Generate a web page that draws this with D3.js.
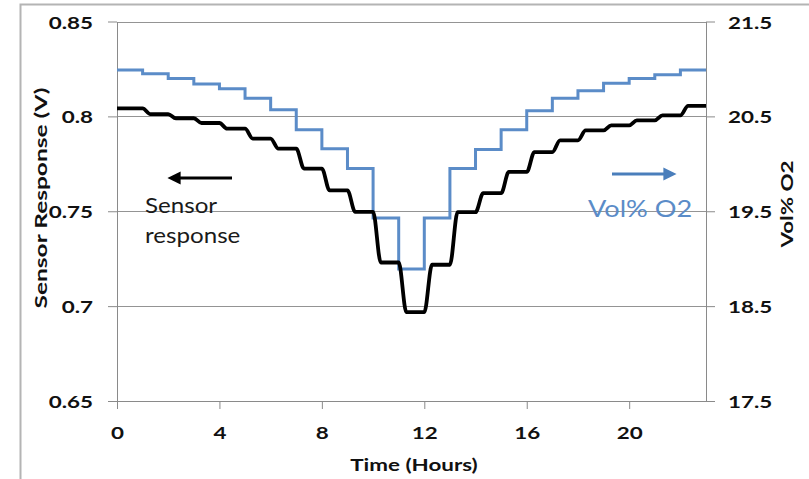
<!DOCTYPE html>
<html>
<head>
<meta charset="utf-8">
<script src="https://cdn.jsdelivr.net/npm/d3@7"></script>
<style>
  html, body { margin: 0; padding: 0; background: #fff; }
  svg { display: block; }
</style>
</head>
<body>
<svg id="chart" width="809" height="479"></svg>
<script>
// Hour index of each step (start of the hour)
const hours = d3.range(0, 23);
// Sensor output (V) held during each hour
const sensorV = [0.8042, 0.8012, 0.7990, 0.7965, 0.7935, 0.7883, 0.7830, 0.7725,
                 0.7610, 0.7497, 0.7230, 0.6968, 0.7218, 0.7495, 0.7595, 0.7707,
                 0.7812, 0.7874, 0.7926, 0.7953, 0.7979, 0.8005, 0.8055];
// Oxygen concentration (vol%) during each hour
const o2Vol = [20.99, 20.95, 20.90, 20.84, 20.79, 20.69, 20.57, 20.36, 20.16, 19.95,
               19.43, 18.89, 19.43, 19.95, 20.15, 20.36, 20.56, 20.69, 20.77, 20.85,
               20.90, 20.94, 20.99];
// Axis ticks
const xTicks = [0, 4, 8, 12, 16, 20];
const leftTicks = [0.65, 0.7, 0.75, 0.8, 0.85];
const leftTickLabels = ["0.65", "0.7", "0.75", "0.8", "0.85"];
const rightTicks = [17.5, 18.5, 19.5, 20.5, 21.5];
const rightTickLabels = ["17.5", "18.5", "19.5", "20.5", "21.5"];

const FONT = "Lato, 'Open Sans', sans-serif";
const SIZE = 17.5;        // axis label font size
const SX = 1.28;          // horizontal glyph stretch of the labels
const BLUE = "#5b8cc8";

const svg = d3.select("#chart");

// frame
svg.append("path")
  .attr("d", "M20.5,479 V4.5 H809")
  .attr("fill", "none").attr("stroke", "#b4b4b4").attr("stroke-width", 2);

const x = d3.scaleLinear().domain([0, 23]).range([117, 706]);
const yL = d3.scaleLinear().domain([0.65, 0.85]).range([401, 21.5]);
const yR = d3.scaleLinear().domain([17.5, 21.5]).range([401, 21.5]);

// horizontal gridlines
svg.append("g").selectAll("line")
  .data(leftTicks.slice(1))
  .join("line")
  .attr("x1", x(0)).attr("x2", x(23))
  .attr("y1", d => Math.round(yL(d)) + 0.5).attr("y2", d => Math.round(yL(d)) + 0.5)
  .attr("stroke", "#949494").attr("stroke-width", 1);

function styleAxis(g) {
  g.selectAll(".domain").attr("stroke", "#8a8a8a");
  g.selectAll(".tick line").attr("stroke", "#8a8a8a");
  g.selectAll(".tick text")
    .attr("x", null).attr("y", null).attr("dy", null)
    .attr("fill", "#111")
    .style("font-family", FONT).style("font-weight", 700).style("font-size", SIZE + "px");
}

// left axis
const gL = svg.append("g").attr("transform", `translate(${x(0)},0)`)
  .call(d3.axisLeft(yL).tickValues(leftTicks)
    .tickFormat((d, i) => leftTickLabels[i]).tickSize(9).tickSizeOuter(0));
styleAxis(gL);
gL.selectAll(".tick text").attr("text-anchor", "end")
  .attr("transform", `translate(-24,6.5) scale(${SX},1)`);

// right axis
const gR = svg.append("g").attr("transform", `translate(${x(23)},0)`)
  .call(d3.axisRight(yR).tickValues(rightTicks)
    .tickFormat((d, i) => rightTickLabels[i]).tickSize(9).tickSizeOuter(0));
styleAxis(gR);
gR.selectAll(".tick text").attr("text-anchor", "start")
  .attr("transform", `translate(22,6.5) scale(${SX},1)`);

// bottom axis
const gB = svg.append("g").attr("transform", `translate(0,${yL(0.65)})`)
  .call(d3.axisBottom(x).tickValues(xTicks).tickFormat(d3.format("d"))
    .tickSize(8).tickSizeOuter(0));
styleAxis(gB);
gB.selectAll(".tick text").attr("text-anchor", "middle")
  .attr("transform", `translate(0,37.5) scale(${SX},1)`);

// axis titles
function label(txt, tx, ty, opts) {
  const o = Object.assign({ rot: 0, size: SIZE, weight: 700, fill: "#111", anchor: "middle", sx: SX }, opts);
  return svg.append("text")
    .attr("transform", `translate(${tx},${ty}) rotate(${o.rot}) scale(${o.sx},1)`)
    .attr("text-anchor", o.anchor)
    .attr("fill", o.fill)
    .style("font-family", FONT).style("font-weight", o.weight).style("font-size", o.size + "px")
    .text(txt);
}
label("Time (Hours)", 414, 471);
label("Sensor Response (V)", 47, 198, { rot: -90, sx: 1.4 });
label("Vol% O2", 793, 204, { rot: -90 });

// O2 series: flat for each hour
const o2Pts = hours.map((h, i) => [h, o2Vol[i]]).concat([[23, o2Vol[o2Vol.length - 1]]]);
svg.append("path")
  .datum(o2Pts)
  .attr("fill", "none").attr("stroke", BLUE).attr("stroke-width", 3)
  .attr("stroke-linejoin", "miter")
  .attr("d", d3.line().x(d => x(d[0])).y(d => yR(d[1])).curve(d3.curveStepAfter));

// sensor series: each level is reached with a short settling transition after the hour
const settle = 0.3;
const sensPts = [[0, sensorV[0]]];
hours.slice(1).forEach((h, k) => {
  const i = k + 1;
  sensPts.push([h, sensorV[i - 1]]);
  sensPts.push([h + settle, sensorV[i]]);
});
sensPts.push([23, sensorV[sensorV.length - 1]]);
svg.append("path")
  .datum(sensPts)
  .attr("fill", "none").attr("stroke", "#000").attr("stroke-width", 3.8)
  .attr("stroke-linejoin", "round")
  .attr("d", d3.line().x(d => x(d[0])).y(d => yL(d[1])).curve(d3.curveMonotoneX));

// annotation arrows
const defs = svg.append("defs");
function marker(id, color) {
  defs.append("marker")
    .attr("id", id).attr("viewBox", "0 0 10 10")
    .attr("refX", 2).attr("refY", 5)
    .attr("markerWidth", 4.4).attr("markerHeight", 4.4)
    .attr("orient", "auto-start-reverse")
    .append("path").attr("d", "M0,0 L10,5 L0,10 Z").attr("fill", color);
}
marker("arrowBlack", "#000");
marker("arrowBlue", "#4a7ebb");

svg.append("line")
  .attr("x1", 232).attr("y1", 178).attr("x2", 178).attr("y2", 178)
  .attr("stroke", "#000").attr("stroke-width", 3)
  .attr("marker-end", "url(#arrowBlack)");
svg.append("line")
  .attr("x1", 612).attr("y1", 174).attr("x2", 666).attr("y2", 174)
  .attr("stroke", "#4a7ebb").attr("stroke-width", 3)
  .attr("marker-end", "url(#arrowBlue)");

label("Sensor", 145, 213, { size: 21, weight: 400, anchor: "start", sx: 1.15, fill: "#1a1a1a" });
label("response", 145, 243, { size: 21, weight: 400, anchor: "start", sx: 1.15, fill: "#1a1a1a" });
label("Vol% O2", 588, 217, { size: 23, weight: 400, anchor: "start", sx: 1.18, fill: BLUE });
</script>
</body>
</html>
